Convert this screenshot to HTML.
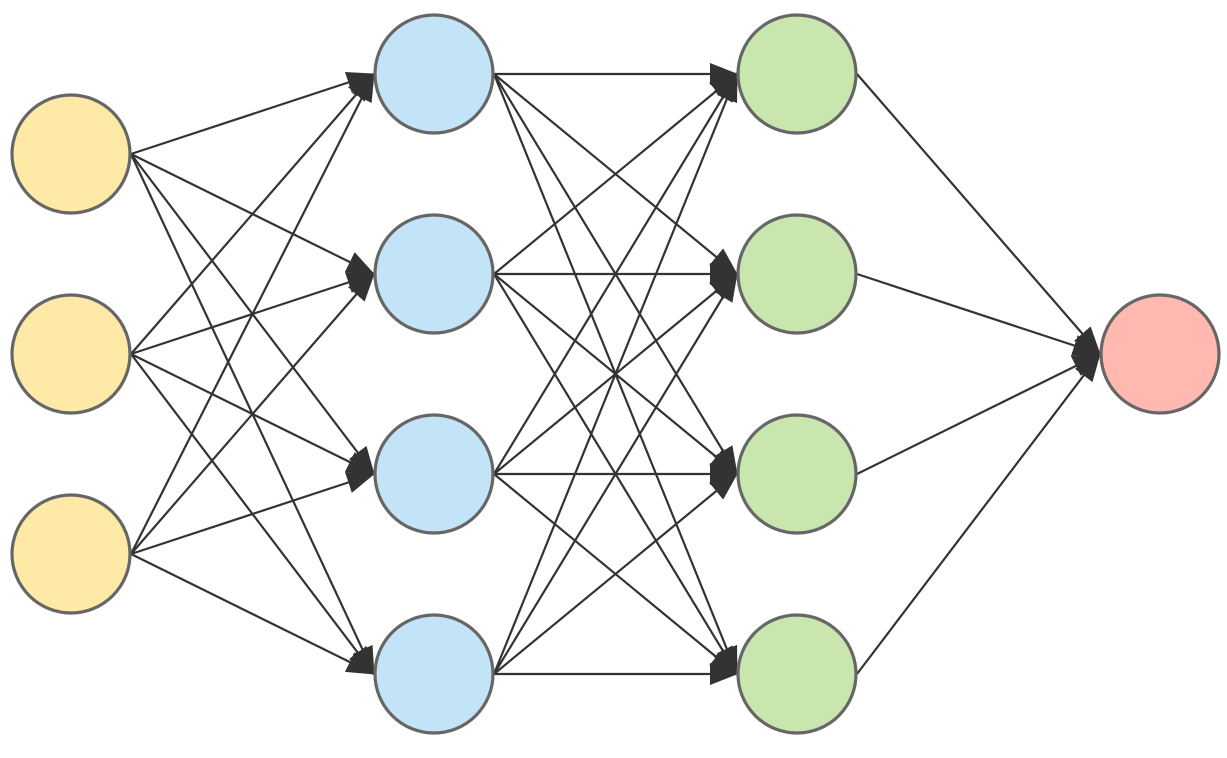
<!DOCTYPE html>
<html><head><style>html,body{margin:0;padding:0;background:#fff}</style></head>
<body>
<svg width="1227" height="753" xmlns="http://www.w3.org/2000/svg">
<defs>
<marker id="a" markerWidth="30" markerHeight="26" refX="27" refY="13" orient="auto" markerUnits="userSpaceOnUse">
<path d="M0,2 L28,13 L0,24 Z" fill="#333"/>
</marker>
</defs>
<g id="L" stroke="#333" stroke-width="2.2" fill="none" marker-end="url(#a)"></g>
<g id="C" stroke="#666" stroke-width="3.2"></g>
<script>
var L=document.getElementById('L'),C=document.getElementById('C'),ns='http://www.w3.org/2000/svg';
var layers=[[71,[154,354,554],'#ffe9a6'],[434,[74,274,474,674],'#c3e4f7'],[797,[74,274,474,674],'#c8e6ad'],[1160,[354],'#ffb9b0']];
var r=59;
for(var i=0;i<3;i++){var a=layers[i],b=layers[i+1];
a[1].forEach(function(y1){b[1].forEach(function(y2){var l=document.createElementNS(ns,'line');
l.setAttribute('x1',a[0]+r+1);l.setAttribute('y1',y1);l.setAttribute('x2',b[0]-r-1);l.setAttribute('y2',y2);L.appendChild(l);});});}
layers.forEach(function(a){a[1].forEach(function(y){var c=document.createElementNS(ns,'circle');
c.setAttribute('cx',a[0]);c.setAttribute('cy',y);c.setAttribute('r',r);c.setAttribute('fill',a[2]);C.appendChild(c);});});
</script>
</svg>
</body></html>
